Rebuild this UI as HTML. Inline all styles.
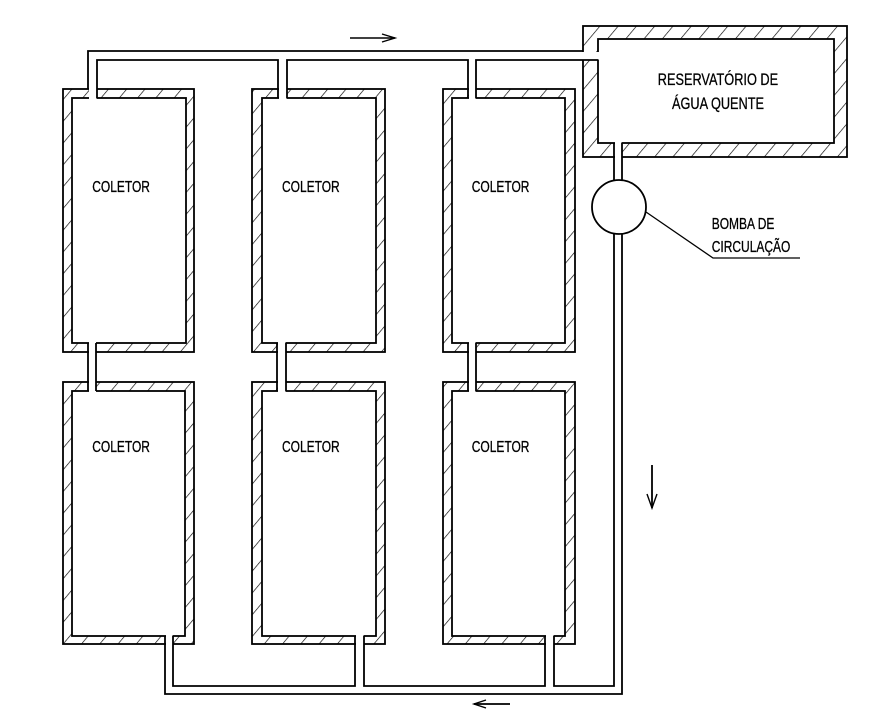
<!DOCTYPE html>
<html><head><meta charset="utf-8"><style>
html,body{margin:0;padding:0;background:#fff}
svg{display:block}
text{font-family:"Liberation Sans",sans-serif;font-size:16px;fill:#000;stroke:#000;stroke-width:0.3}
</style></head><body>
<svg width="885" height="728" viewBox="0 0 885 728" xmlns="http://www.w3.org/2000/svg">
<defs>
<pattern id="h" patternUnits="userSpaceOnUse" width="14" height="14" patternTransform="rotate(40)">
<rect width="14" height="14" fill="#fff"/>
<line x1="0" y1="0" x2="0" y2="14" stroke="#000" stroke-width="1.3"/>
</pattern>
</defs>
<g stroke="#000" stroke-width="1.8" fill="none">
<g fill="url(#h)">
<rect x="63" y="89" width="131" height="263"/>
<rect x="252" y="89" width="133" height="263"/>
<rect x="443" y="89" width="132" height="263"/>
<rect x="63" y="382" width="131" height="262"/>
<rect x="252" y="382" width="133" height="262"/>
<rect x="443" y="382" width="132" height="262"/>
<rect x="583" y="26" width="264" height="131"/>
</g>
<g fill="#fff">
<rect x="72" y="98" width="114" height="245"/>
<rect x="262" y="98" width="114" height="245"/>
<rect x="452" y="98" width="113" height="245"/>
<rect x="72" y="391" width="113" height="245"/>
<rect x="262" y="391" width="114" height="245"/>
<rect x="452" y="391" width="113" height="245"/>
<rect x="598" y="39" width="236" height="104"/>
</g>
</g>
<g fill="#fff" stroke="none">
<rect x="89" y="52" width="7.5" height="47"/>
<rect x="279" y="52" width="7.5" height="47"/>
<rect x="469" y="52" width="6.5" height="47"/>
<rect x="89" y="52" width="510" height="7.5"/>
<rect x="89" y="342" width="7" height="50"/>
<rect x="278" y="342" width="7.5" height="50"/>
<rect x="469" y="342" width="6.5" height="50"/>
<rect x="166" y="635" width="6.5" height="52"/>
<rect x="356" y="635" width="7.5" height="52"/>
<rect x="546" y="635" width="7.5" height="52"/>
<rect x="166" y="687" width="456" height="6.5"/>
<rect x="615" y="142" width="6.5" height="545"/>
</g>
<g stroke="#000" stroke-width="1.8" fill="none">
<polyline points="88,89 88,51 583,51"/>
<polyline points="97,98 97,60 278,60 278,98"/>
<polyline points="287,98 287,60 468,60 468,98"/>
<polyline points="476,98 476,60 598,60"/>
<line x1="88" y1="343" x2="88" y2="391"/><line x1="96" y1="343" x2="96" y2="391"/>
<line x1="277" y1="343" x2="277" y2="391"/><line x1="286" y1="343" x2="286" y2="391"/>
<line x1="468" y1="343" x2="468" y2="391"/><line x1="476" y1="343" x2="476" y2="391"/>
<polyline points="165,636 165,694 622,694 622,234"/>
<polyline points="173,636 173,686 355,686 355,636"/>
<polyline points="364,636 364,686 545,686 545,636"/>
<polyline points="554,636 554,686 614,686 614,234"/>
<polyline points="622,180 622,143"/>
<polyline points="614,180 614,143"/>
<circle cx="619" cy="207" r="27" fill="#fff"/>
<polyline points="646,212 713,258 800,258" stroke-width="1.3"/>
<line x1="350" y1="38" x2="395" y2="38" stroke-width="1.4"/>
<polyline points="382,34 395,38 382,42" stroke-width="1.4"/>
<line x1="652" y1="465" x2="652" y2="508" stroke-width="1.8"/>
<polyline points="647,494 652,508 657,494" stroke-width="1.4"/>
<line x1="474" y1="704" x2="510" y2="704" stroke-width="1.8"/>
<polyline points="486,700 474,704 486,708" stroke-width="1.4"/>
</g>
<g transform="scale(0.75,1)">
<text x="123" y="192">COLETOR</text>
<text x="376" y="192">COLETOR</text>
<text x="629" y="192">COLETOR</text>
<text x="123" y="452">COLETOR</text>
<text x="376" y="452">COLETOR</text>
<text x="629" y="452">COLETOR</text>
<text x="877" y="85" style="font-size:17px">RESERVATÓRIO DE</text>
<text x="896" y="109" style="font-size:17px">ÁGUA QUENTE</text>
<text x="949" y="229">BOMBA DE</text>
<text x="949" y="252">CIRCULAÇÃO</text>
</g>
</svg>
</body></html>
